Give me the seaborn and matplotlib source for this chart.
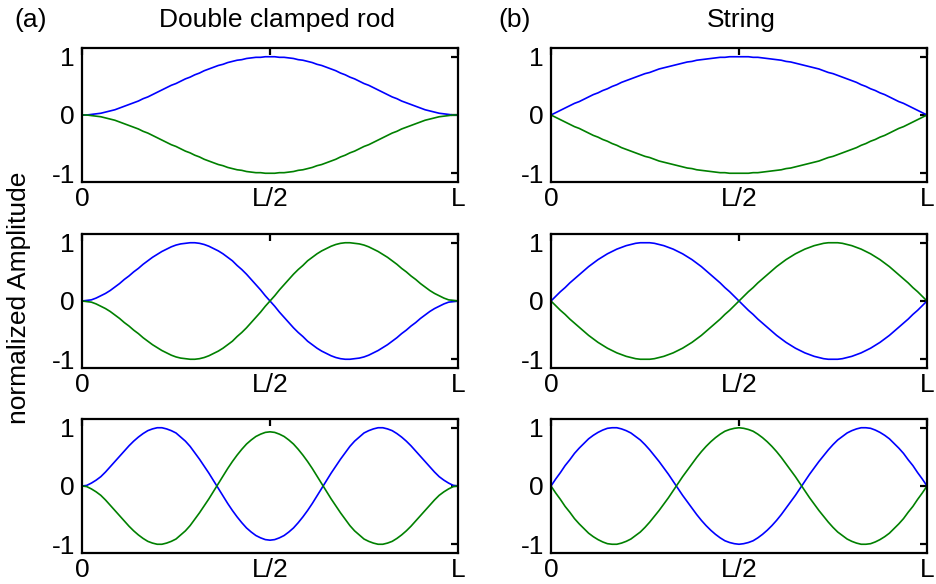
import numpy as np
import pandas as pd
import matplotlib
matplotlib.use("Agg")
import matplotlib.pyplot as plt
import seaborn as sns

# ---- data ----
x_pos = np.linspace(0.0, 1.0, 81)          # sample positions along the rod/string (0 .. L)
x_ticks = [0.0, 0.5, 1.0]
x_ticklabels = ["0", "L/2", "L"]
y_ticks = [-1, 0, 1]
y_ticklabels = ["-1", "0", "1"]

rod_m1_blue = [0.00, 0.00, 0.01, 0.02, 0.03, 0.05, 0.07, 0.09, 0.12, 0.15, 0.18, 0.21, 0.24, 0.28, 0.31, 0.35, 0.39, 0.43, 0.47, 0.51,
               0.54, 0.58, 0.62, 0.65, 0.69, 0.72, 0.76, 0.79, 0.82, 0.85, 0.87, 0.90, 0.92, 0.94, 0.95, 0.97, 0.98, 0.99, 0.99, 1.00, 1.00,
               1.00, 0.99, 0.99, 0.98, 0.97, 0.95, 0.94, 0.92, 0.90, 0.87, 0.85, 0.82, 0.79, 0.76, 0.72, 0.69, 0.65, 0.62, 0.58,
               0.54, 0.51, 0.47, 0.43, 0.39, 0.35, 0.31, 0.28, 0.24, 0.21, 0.18, 0.15, 0.12, 0.09, 0.07, 0.05, 0.03, 0.02, 0.01, 0.00, 0.00]
rod_m1_green = [0.00, 0.00, -0.01, -0.02, -0.03, -0.05, -0.07, -0.09, -0.12, -0.15, -0.18, -0.21, -0.24, -0.28, -0.31, -0.35, -0.39, -0.43, -0.47, -0.51,
                -0.54, -0.58, -0.62, -0.65, -0.69, -0.72, -0.76, -0.79, -0.82, -0.85, -0.87, -0.90, -0.92, -0.94, -0.95, -0.97, -0.98, -0.99, -0.99, -1.00, -1.00,
                -1.00, -0.99, -0.99, -0.98, -0.97, -0.95, -0.94, -0.92, -0.90, -0.87, -0.85, -0.82, -0.79, -0.76, -0.72, -0.69, -0.65, -0.62, -0.58,
                -0.54, -0.51, -0.47, -0.43, -0.39, -0.35, -0.31, -0.28, -0.24, -0.21, -0.18, -0.15, -0.12, -0.09, -0.07, -0.05, -0.03, -0.02, -0.01, 0.00, 0.00]

rod_m2_blue = [0.00, 0.01, 0.02, 0.05, 0.09, 0.13, 0.18, 0.24, 0.30, 0.37, 0.43, 0.50, 0.56, 0.63, 0.69, 0.75, 0.80, 0.85, 0.89, 0.93,
               0.96, 0.98, 0.99, 1.00, 1.00, 0.99, 0.97, 0.94, 0.90, 0.86, 0.81, 0.75, 0.69, 0.61, 0.54, 0.46, 0.37, 0.28, 0.19, 0.09, 0.00,
               -0.09, -0.19, -0.28, -0.37, -0.46, -0.54, -0.61, -0.69, -0.75, -0.81, -0.86, -0.90, -0.94, -0.97, -0.99, -1.00, -1.00, -0.99, -0.98,
               -0.96, -0.93, -0.89, -0.85, -0.80, -0.75, -0.69, -0.63, -0.56, -0.50, -0.43, -0.37, -0.30, -0.24, -0.18, -0.13, -0.09, -0.05, -0.02, -0.01, 0.00]
rod_m2_green = [0.00, -0.01, -0.02, -0.05, -0.09, -0.13, -0.18, -0.24, -0.30, -0.37, -0.43, -0.50, -0.56, -0.63, -0.69, -0.75, -0.80, -0.85, -0.89, -0.93,
                -0.96, -0.98, -0.99, -1.00, -1.00, -0.99, -0.97, -0.94, -0.90, -0.86, -0.81, -0.75, -0.69, -0.61, -0.54, -0.46, -0.37, -0.28, -0.19, -0.09, 0.00,
                0.09, 0.19, 0.28, 0.37, 0.46, 0.54, 0.61, 0.69, 0.75, 0.81, 0.86, 0.90, 0.94, 0.97, 0.99, 1.00, 1.00, 0.99, 0.98,
                0.96, 0.93, 0.89, 0.85, 0.80, 0.75, 0.69, 0.63, 0.56, 0.50, 0.43, 0.37, 0.30, 0.24, 0.18, 0.13, 0.09, 0.05, 0.02, 0.01, 0.00]

rod_m3_blue = [0.00, 0.01, 0.05, 0.10, 0.16, 0.24, 0.33, 0.42, 0.51, 0.60, 0.69, 0.77, 0.84, 0.90, 0.95, 0.98, 1.00, 1.00, 0.98, 0.95,
               0.91, 0.84, 0.77, 0.68, 0.57, 0.46, 0.34, 0.22, 0.09, -0.04, -0.17, -0.30, -0.42, -0.53, -0.63, -0.72, -0.79, -0.85, -0.89, -0.92, -0.93,
               -0.92, -0.89, -0.85, -0.79, -0.72, -0.63, -0.53, -0.42, -0.30, -0.17, -0.04, 0.09, 0.22, 0.34, 0.46, 0.57, 0.68, 0.77, 0.84,
               0.91, 0.95, 0.98, 1.00, 1.00, 0.98, 0.95, 0.90, 0.84, 0.77, 0.69, 0.60, 0.51, 0.42, 0.33, 0.24, 0.16, 0.10, 0.05, 0.01, 0.00]
rod_m3_green = [0.00, -0.01, -0.05, -0.10, -0.16, -0.24, -0.33, -0.42, -0.51, -0.60, -0.69, -0.77, -0.84, -0.90, -0.95, -0.98, -1.00, -1.00, -0.98, -0.95,
                -0.91, -0.84, -0.77, -0.68, -0.57, -0.46, -0.34, -0.22, -0.09, 0.04, 0.17, 0.30, 0.42, 0.53, 0.63, 0.72, 0.79, 0.85, 0.89, 0.92, 0.93,
                0.92, 0.89, 0.85, 0.79, 0.72, 0.63, 0.53, 0.42, 0.30, 0.17, 0.04, -0.09, -0.22, -0.34, -0.46, -0.57, -0.68, -0.77, -0.84,
                -0.91, -0.95, -0.98, -1.00, -1.00, -0.98, -0.95, -0.90, -0.84, -0.77, -0.69, -0.60, -0.51, -0.42, -0.33, -0.24, -0.16, -0.10, -0.05, -0.01, 0.00]

str_m1_blue = [0.00, 0.04, 0.08, 0.12, 0.16, 0.20, 0.23, 0.27, 0.31, 0.35, 0.38, 0.42, 0.45, 0.49, 0.52, 0.56, 0.59, 0.62, 0.65, 0.68,
               0.71, 0.73, 0.76, 0.79, 0.81, 0.83, 0.85, 0.87, 0.89, 0.91, 0.92, 0.94, 0.95, 0.96, 0.97, 0.98, 0.99, 0.99, 1.00, 1.00, 1.00,
               1.00, 1.00, 0.99, 0.99, 0.98, 0.97, 0.96, 0.95, 0.94, 0.92, 0.91, 0.89, 0.87, 0.85, 0.83, 0.81, 0.79, 0.76, 0.73,
               0.71, 0.68, 0.65, 0.62, 0.59, 0.56, 0.52, 0.49, 0.45, 0.42, 0.38, 0.35, 0.31, 0.27, 0.23, 0.20, 0.16, 0.12, 0.08, 0.04, 0.00]
str_m1_green = [0.00, -0.04, -0.08, -0.12, -0.16, -0.20, -0.23, -0.27, -0.31, -0.35, -0.38, -0.42, -0.45, -0.49, -0.52, -0.56, -0.59, -0.62, -0.65, -0.68,
                -0.71, -0.73, -0.76, -0.79, -0.81, -0.83, -0.85, -0.87, -0.89, -0.91, -0.92, -0.94, -0.95, -0.96, -0.97, -0.98, -0.99, -0.99, -1.00, -1.00, -1.00,
                -1.00, -1.00, -0.99, -0.99, -0.98, -0.97, -0.96, -0.95, -0.94, -0.92, -0.91, -0.89, -0.87, -0.85, -0.83, -0.81, -0.79, -0.76, -0.73,
                -0.71, -0.68, -0.65, -0.62, -0.59, -0.56, -0.52, -0.49, -0.45, -0.42, -0.38, -0.35, -0.31, -0.27, -0.23, -0.20, -0.16, -0.12, -0.08, -0.04, 0.00]

str_m2_blue = [0.00, 0.08, 0.16, 0.23, 0.31, 0.38, 0.45, 0.52, 0.59, 0.65, 0.71, 0.76, 0.81, 0.85, 0.89, 0.92, 0.95, 0.97, 0.99, 1.00, 1.00,
               1.00, 0.99, 0.97, 0.95, 0.92, 0.89, 0.85, 0.81, 0.76, 0.71, 0.65, 0.59, 0.52, 0.45, 0.38, 0.31, 0.23, 0.16, 0.08, 0.00,
               -0.08, -0.16, -0.23, -0.31, -0.38, -0.45, -0.52, -0.59, -0.65, -0.71, -0.76, -0.81, -0.85, -0.89, -0.92, -0.95, -0.97, -0.99, -1.00, -1.00,
               -1.00, -0.99, -0.97, -0.95, -0.92, -0.89, -0.85, -0.81, -0.76, -0.71, -0.65, -0.59, -0.52, -0.45, -0.38, -0.31, -0.23, -0.16, -0.08, 0.00]
str_m2_green = [0.00, -0.08, -0.16, -0.23, -0.31, -0.38, -0.45, -0.52, -0.59, -0.65, -0.71, -0.76, -0.81, -0.85, -0.89, -0.92, -0.95, -0.97, -0.99, -1.00, -1.00,
                -1.00, -0.99, -0.97, -0.95, -0.92, -0.89, -0.85, -0.81, -0.76, -0.71, -0.65, -0.59, -0.52, -0.45, -0.38, -0.31, -0.23, -0.16, -0.08, 0.00,
                0.08, 0.16, 0.23, 0.31, 0.38, 0.45, 0.52, 0.59, 0.65, 0.71, 0.76, 0.81, 0.85, 0.89, 0.92, 0.95, 0.97, 0.99, 1.00, 1.00,
                1.00, 0.99, 0.97, 0.95, 0.92, 0.89, 0.85, 0.81, 0.76, 0.71, 0.65, 0.59, 0.52, 0.45, 0.38, 0.31, 0.23, 0.16, 0.08, 0.00]

str_m3_blue = [0.00, 0.12, 0.23, 0.35, 0.45, 0.56, 0.65, 0.73, 0.81, 0.87, 0.92, 0.96, 0.99, 1.00, 1.00, 0.98, 0.95, 0.91, 0.85, 0.79,
               0.71, 0.62, 0.52, 0.42, 0.31, 0.20, 0.08, -0.04, -0.16, -0.27, -0.38, -0.49, -0.59, -0.68, -0.76, -0.83, -0.89, -0.94, -0.97, -0.99, -1.00,
               -0.99, -0.97, -0.94, -0.89, -0.83, -0.76, -0.68, -0.59, -0.49, -0.38, -0.27, -0.16, -0.04, 0.08, 0.20, 0.31, 0.42, 0.52, 0.62,
               0.71, 0.79, 0.85, 0.91, 0.95, 0.98, 1.00, 1.00, 0.99, 0.96, 0.92, 0.87, 0.81, 0.73, 0.65, 0.56, 0.45, 0.35, 0.23, 0.12, 0.00]
str_m3_green = [0.00, -0.12, -0.23, -0.35, -0.45, -0.56, -0.65, -0.73, -0.81, -0.87, -0.92, -0.96, -0.99, -1.00, -1.00, -0.98, -0.95, -0.91, -0.85, -0.79,
                -0.71, -0.62, -0.52, -0.42, -0.31, -0.20, -0.08, 0.04, 0.16, 0.27, 0.38, 0.49, 0.59, 0.68, 0.76, 0.83, 0.89, 0.94, 0.97, 0.99, 1.00,
                0.99, 0.97, 0.94, 0.89, 0.83, 0.76, 0.68, 0.59, 0.49, 0.38, 0.27, 0.16, 0.04, -0.08, -0.20, -0.31, -0.42, -0.52, -0.62,
                -0.71, -0.79, -0.85, -0.91, -0.95, -0.98, -1.00, -1.00, -0.99, -0.96, -0.92, -0.87, -0.81, -0.73, -0.65, -0.56, -0.45, -0.35, -0.23, -0.12, 0.00]

column_titles = ["Double clamped rod", "String"]
panel_tags = ["(a)", "(b)"]
y_label = "normalized Amplitude"

panels = [
    [(rod_m1_blue, rod_m1_green), (str_m1_blue, str_m1_green)],
    [(rod_m2_blue, rod_m2_green), (str_m2_blue, str_m2_green)],
    [(rod_m3_blue, rod_m3_green), (str_m3_blue, str_m3_green)],
]

# ---- style ----
sns.set_theme(style="white")
plt.rcParams["font.family"] = ["Liberation Sans", "DejaVu Sans"]
plt.rcParams["text.color"] = "black"
plt.rcParams["axes.labelcolor"] = "black"
plt.rcParams["axes.linewidth"] = 1.6
plt.rcParams["axes.edgecolor"] = "black"

FS = 19
W, H = 937, 584
fig = plt.figure(figsize=(W / 100, H / 100), dpi=100)

col_left = [82, 551]
ax_w = 376
row_top = [48, 234, 419]
ax_h = 134

colors = {"blue": "#0000ff", "green": "#008000"}

for r in range(3):
    for c in range(2):
        left = col_left[c] / W
        bottom = 1 - (row_top[r] + ax_h) / H
        ax = fig.add_axes([left, bottom, ax_w / W, ax_h / H])
        blue, green = panels[r][c]
        n = min(len(blue), len(green), len(x_pos))
        df = pd.DataFrame({
            "x": np.concatenate([x_pos[:n], x_pos[:n]]),
            "y": np.array(list(blue[:n]) + list(green[:n])),
            "curve": ["blue"] * n + ["green"] * n,
        })
        sns.lineplot(data=df, x="x", y="y", hue="curve", palette=colors,
                     estimator=None, sort=False, linewidth=1.2, legend=False, ax=ax)
        ax.set_xlim(0, 1)
        ax.set_ylim(-1.15, 1.15)
        ax.set_xticks(x_ticks)
        ax.set_xticklabels(x_ticklabels)
        ax.set_yticks(y_ticks)
        ax.set_yticklabels(y_ticklabels)
        ax.set_xlabel("")
        ax.set_ylabel("")
        ax.tick_params(axis="both", which="major", direction="in", length=5, width=1.6,
                       labelsize=FS, colors="black", top=True, right=True)
        ax.tick_params(axis="x", pad=3.5)
        ax.tick_params(axis="y", pad=5)
        for s in ax.spines.values():
            s.set_visible(True)
            s.set_color("black")
            s.set_linewidth(1.6)

fig.text(277 / W, 1 - 20 / H, column_titles[0], ha="center", va="center", fontsize=FS)
fig.text(741 / W, 1 - 20 / H, column_titles[1], ha="center", va="center", fontsize=FS)
fig.text(31 / W, 1 - 20 / H, panel_tags[0], ha="center", va="center", fontsize=FS)
fig.text(515 / W, 1 - 20 / H, panel_tags[1], ha="center", va="center", fontsize=FS)
fig.text(19 / W, 1 - 298 / H, y_label, ha="center", va="center", rotation=90, fontsize=FS)

fig.savefig("out.png", dpi=100, facecolor="white")
